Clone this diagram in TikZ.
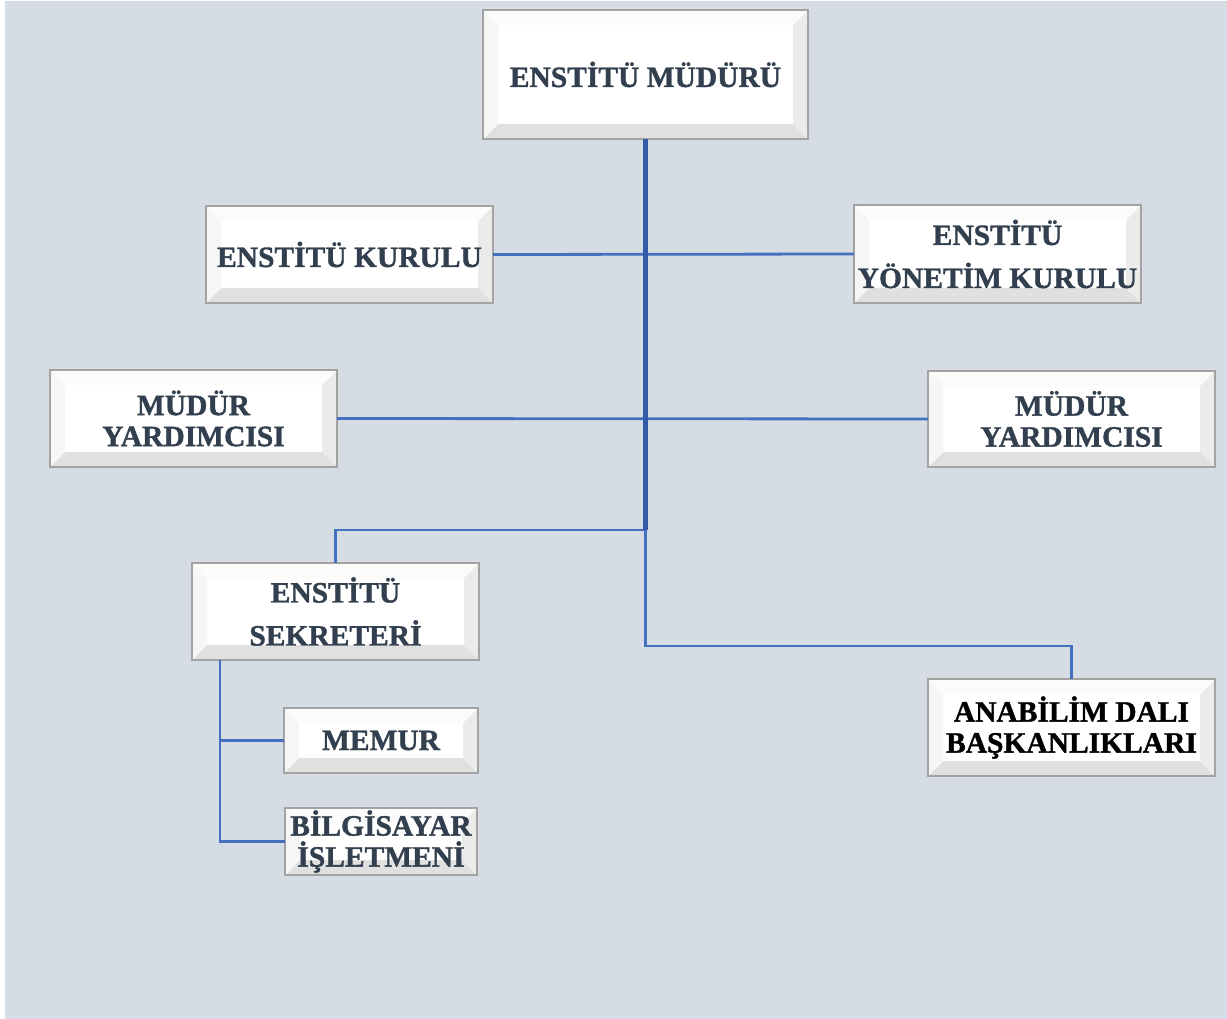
\documentclass[tikz,border=0pt]{standalone}
\usepackage{fontspec}
\setmainfont{Liberation Serif}
\newfontfamily\heavyfont{Liberation Serif Bold}[FakeBold=1.2]
\definecolor{bg}{HTML}{D6DCE4}
\definecolor{txt}{HTML}{323F4F}
\definecolor{thickblue}{HTML}{3459A6}
\definecolor{thinblue}{HTML}{4470C0}
\definecolor{boxline}{HTML}{A3A3A3}
\tikzset{
  orgbox/.style={draw=boxline, line width=1.5pt, fill=white, inner sep=0pt, outer sep=0pt,
    align=center, text=txt, font=\heavyfont\fontsize{29.5}{31}\selectfont,
    path picture={
      \fill[gray!24] (path picture bounding box.south west) -- (path picture bounding box.south east)
        -- ([xshift=-15pt,yshift=15pt]path picture bounding box.south east)
        -- ([xshift=15pt,yshift=15pt]path picture bounding box.south west) -- cycle;
      \fill[gray!16] (path picture bounding box.south east) -- (path picture bounding box.north east)
        -- ([xshift=-15pt,yshift=-15pt]path picture bounding box.north east)
        -- ([xshift=-15pt,yshift=15pt]path picture bounding box.south east) -- cycle;
      \fill[gray!7] (path picture bounding box.south west) -- (path picture bounding box.north west)
        -- ([xshift=15pt,yshift=-15pt]path picture bounding box.north west)
        -- ([xshift=15pt,yshift=15pt]path picture bounding box.south west) -- cycle;
      \fill[gray!3] (path picture bounding box.north west) -- (path picture bounding box.north east)
        -- ([xshift=-15pt,yshift=-15pt]path picture bounding box.north east)
        -- ([xshift=15pt,yshift=-15pt]path picture bounding box.north west) -- cycle;
    }},
  thickline/.style={draw=thickblue, line width=5pt},
  thinline/.style={draw=thinblue, line width=2.8pt}
}
\begin{document}
\begin{tikzpicture}[x=1pt,y=-1pt]
\useasboundingbox (0,0) rectangle (1227,1019);
\fill[bg] (5,1) rectangle (1227,1019);

\coordinate (j1) at (645.5,530);
\coordinate (j2) at (645.5,646);

\node[orgbox, minimum width=325pt, minimum height=129pt] (mud) at (645.5,74.5) {ENSTİTÜ MÜDÜRÜ};
\node[orgbox, minimum width=287pt, minimum height=97pt] (kur) at (349.5,254.5) {ENSTİTÜ KURULU};
\node[orgbox, minimum width=287pt, minimum height=98pt] (yon) at (997.5,254) {ENSTİTÜ\\[12pt]YÖNETİM KURULU};
\node[orgbox, minimum width=287pt, minimum height=97pt] (myl) at (193.5,418.5) {MÜDÜR\\YARDIMCISI};
\node[orgbox, minimum width=287pt, minimum height=96pt] (myr) at (1071.5,419) {MÜDÜR\\YARDIMCISI};
\node[orgbox, minimum width=287pt, minimum height=97pt] (sek) at (335.5,611.5) {ENSTİTÜ\\[12pt]SEKRETERİ};
\node[orgbox, minimum width=194pt, minimum height=65pt] (mem) at (381,740.5) {MEMUR};
\node[orgbox, minimum width=192pt, minimum height=67pt] (bil) at (381,841.5) {BİLGİSAYAR\\İŞLETMENİ};
\node[orgbox, minimum width=287pt, minimum height=97pt, text=black] (ana) at (1071.5,727.5) {ANABİLİM DALI\\BAŞKANLIKLARI};

\coordinate (s1) at ([xshift=28pt]sek.south west);

\draw[thinline] (kur.east) -- (yon.west);
\draw[thinline] (myl.east) -- (myr.west);
\draw[thinline] (j1) -| (sek.north);
\draw[thinline] (j1) -- (j2) -| (ana.north);
\draw[thinline] (s1) |- (mem.west);
\draw[thinline] (s1) |- (bil.west);
\draw[thickline] (mud.south) -- (j1);
\end{tikzpicture}
\end{document}
